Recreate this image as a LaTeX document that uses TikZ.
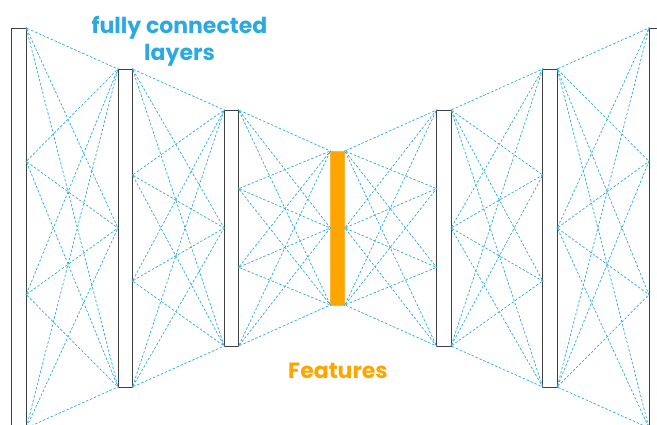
\documentclass[tikz,border=0pt]{standalone}
\usepackage{fontspec}
\newfontfamily\labelfont{Poppins}[UprightFont=* Bold]
\definecolor{netblue}{HTML}{2BA9E1}
\definecolor{featorange}{HTML}{FFA500}

\begin{document}
\begin{tikzpicture}[x=1pt, y=-1pt,
    layer/.style={draw=black!75, line width=0.8pt, fill=white,
      minimum width=14.5pt, inner sep=0pt},
    feature/.style={layer, draw=featorange!80, fill=featorange},
    unit/.style={circle, fill=netblue, inner sep=0pt, minimum size=1.6pt},
    link/.style={netblue, dash pattern=on 2.5pt off 1.8pt, line width=0.7pt}]
  \useasboundingbox (0,0) rectangle (657,425);
  \clip (0,0) rectangle (657,425);

  % layers, left and right contact points
  \foreach \i/\nl/\nr in {1/0/4, 2/3/4, 3/3/4, 4/3/3, 5/4/3, 6/4/3, 7/4/0} {
    \pgfmathsetmacro\cx{19+106.2*(\i-1)}
    \pgfmathsetmacro\ytop{28+41*(3-abs(4-\i))}
    \pgfmathsetmacro\ybot{456-\ytop}
    \ifnum\i=4
      \node[feature, minimum height={\ybot-\ytop}] (b\i) at (\cx,228) {};
    \else
      \node[layer, minimum height={\ybot-\ytop}] (b\i) at (\cx,228) {};
    \fi
    \ifnum\nl>0
      \foreach \k in {1,...,\nl}
        \node[unit] (L\i-\k) at ({\cx-7.25},{\ytop+(\k-1)*(\ybot-\ytop)/(\nl-1)}) {};
    \fi
    \ifnum\nr>0
      \foreach \k in {1,...,\nr}
        \node[unit] (R\i-\k) at ({\cx+7.25},{\ytop+(\k-1)*(\ybot-\ytop)/(\nr-1)}) {};
    \fi
  }

  % fully connected links
  \foreach \i/\j/\m/\n in {1/2/4/3, 2/3/4/3, 3/4/4/3, 4/5/3/4, 5/6/3/4, 6/7/3/4}
    \foreach \a in {1,...,\m}
      \foreach \b in {1,...,\n}
        \draw[link] (R\i-\a) -- (L\j-\b);

  \node[text=netblue, font=\labelfont\fontsize{22}{27}\selectfont, align=center]
    (title) at (179.5,41) {fully connected\\layers};
  \node[text=featorange, font=\labelfont\fontsize{22}{25}\selectfont, anchor=base]
    (feat) at (338,378) {Features};
\end{tikzpicture}
\end{document}
